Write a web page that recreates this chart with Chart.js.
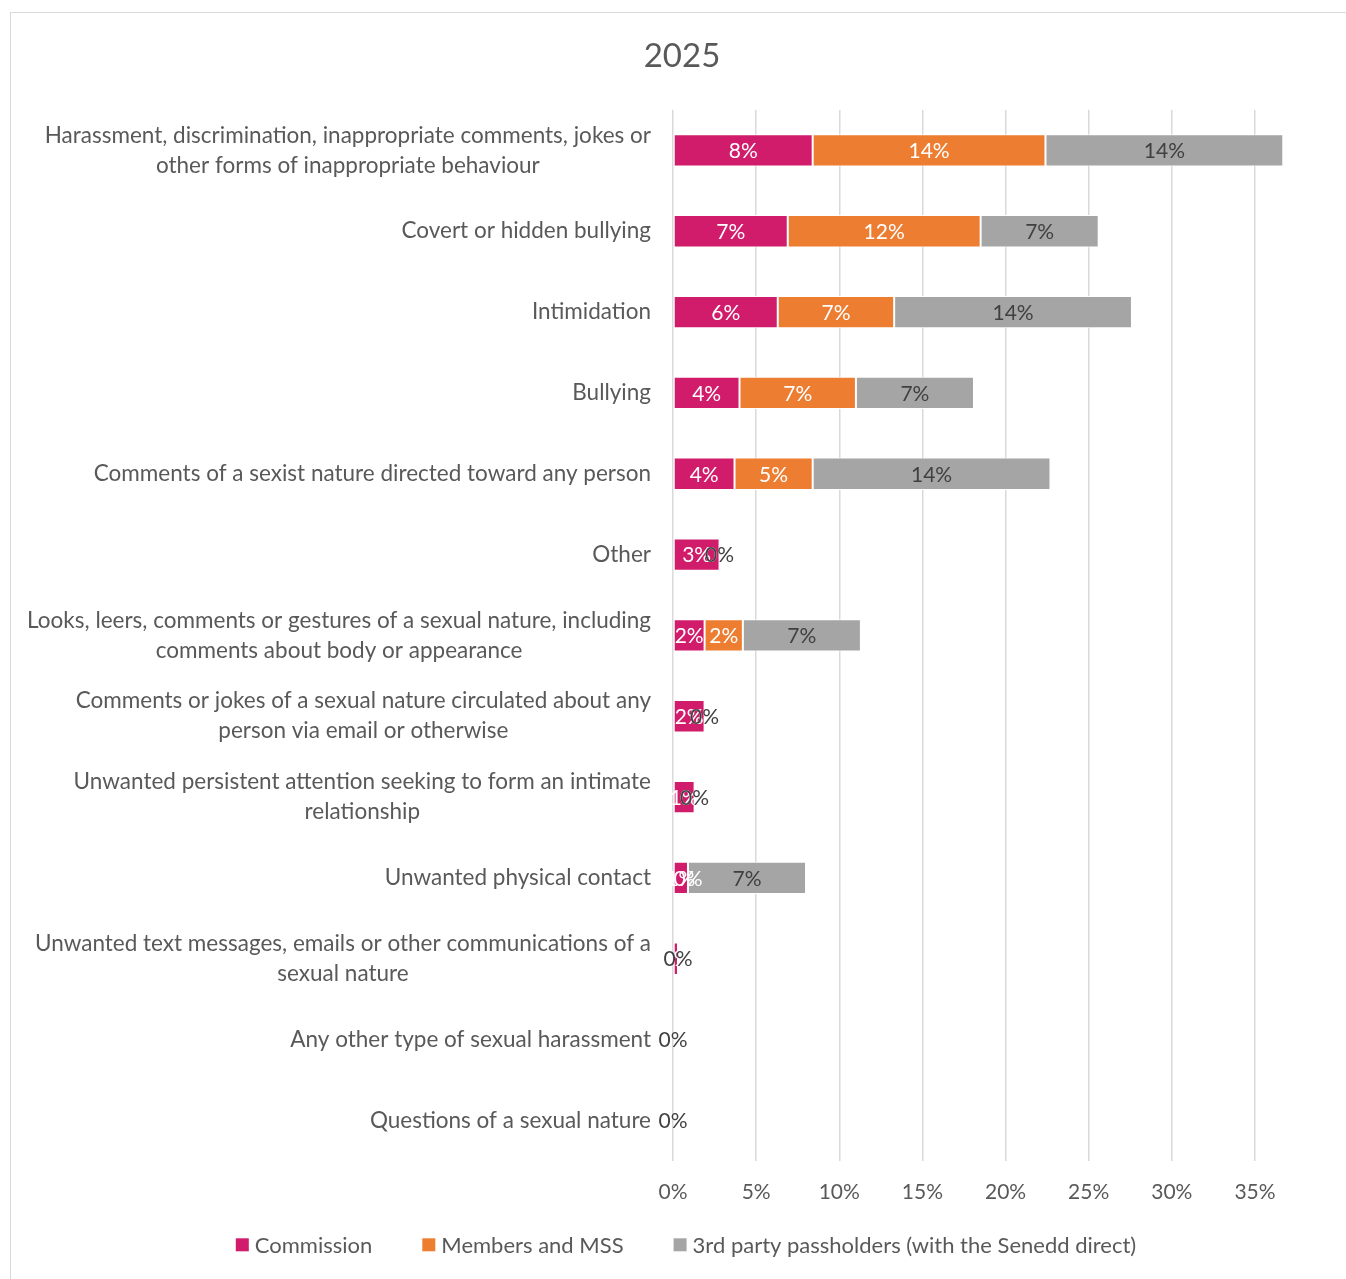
<!DOCTYPE html>
<html>
<head>
<meta charset="utf-8">
<title>2025</title>
<script src="https://cdn.jsdelivr.net/npm/chart.js@4"></script>
<style>
  html, body { margin: 0; padding: 0; background: #fff; overflow: hidden; }
  #wrap { position: relative; width: 1346px; height: 1279px; }
  #frame { position: absolute; left: 10px; top: 12px; width: 1400px; height: 1400px;
           border: 1px solid #d9d9d9; box-sizing: border-box; }
  #chart { position: absolute; left: 0; top: 0; }
</style>
</head>
<body>
<div id="wrap">
  <div id="frame"></div>
  <canvas id="chart" width="1346" height="1279"></canvas>
</div>
<script>
// --- data (percent of respondents) ---
const categories = [
  ['Harassment, discrimination, inappropriate comments, jokes or', 'other forms of inappropriate behaviour'],
  'Covert or hidden bullying',
  'Intimidation',
  'Bullying',
  'Comments of a sexist nature directed toward any person',
  'Other',
  ['Looks, leers, comments or gestures of a sexual nature, including', 'comments about body or appearance'],
  ['Comments or jokes of a sexual nature circulated about any', 'person via email or otherwise'],
  ['Unwanted persistent attention seeking to form an intimate', 'relationship'],
  'Unwanted physical contact',
  ['Unwanted text messages, emails or other communications of a', 'sexual nature'],
  'Any other type of sexual harassment',
  'Questions of a sexual nature',
];
const commission = [8.4, 6.9, 6.3, 4.0, 3.7, 2.8, 1.9, 1.9, 1.3, 0.9, 0.3, 0, 0];
const members    = [14.0, 11.6, 7.0, 7.0, 4.7, 0, 2.3, 0, 0, 0, 0, 0, 0];
const thirdParty = [14.3, 7.1, 14.3, 7.1, 14.3, 0, 7.1, 0, 0, 7.1, 0, 0, 0];
const seriesNames = ['Commission', 'Members and MSS', '3rd party passholders (with the Senedd direct)'];
const chartTitle = '2025';
const xMax = 35;
const xStep = 5;

// --- styles ---
const FONT = 'Lato, "Open Sans", sans-serif';
const FS = 22.5;    // category labels, legend
const FS_NUM = 21;  // tick and value labels
const TEXT = '#595959';
const SERIES_COLORS = ['#d01c6b', '#ed7d31', '#a5a5a5'];
const LABEL_COLORS = ['#ffffff', '#ffffff', '#404040'];

/**
 * Title centred over the whole frame (not just the plot).
 */
const frameTitle = {
  id: 'frameTitle',
  afterDraw(chart) {
    const { ctx } = chart;
    ctx.save();
    ctx.font = `33px ${FONT}`;
    ctx.fillStyle = TEXT;
    ctx.textAlign = 'center';
    ctx.textBaseline = 'middle';
    ctx.fillText(chartTitle, 682, 56);
    ctx.restore();
  },
};

/**
 * Wrapped category labels: each block right-aligned, its lines centred.
 */
const wrappedLabels = {
  id: 'wrappedLabels',
  afterDraw(chart) {
    const { ctx } = chart;
    const y = chart.scales.y;
    ctx.save();
    ctx.font = `${FS}px ${FONT}`;
    ctx.fillStyle = TEXT;
    ctx.textAlign = 'center';
    ctx.textBaseline = 'middle';
    categories.forEach((lab, i) => {
      const lines = Array.isArray(lab) ? lab : [lab];
      const w = Math.max(...lines.map(l => ctx.measureText(l).width));
      const cx = y.right - 22 - w / 2;
      const cy = y.getPixelForValue(i);
      lines.forEach((l, j) => ctx.fillText(l, cx, cy + (j - (lines.length - 1) / 2) * 30));
    });
    ctx.restore();
  },
};

/**
 * Value labels centred in each bar segment (zeros included, like Excel).
 */
const segmentLabels = {
  id: 'segmentLabels',
  afterDatasetsDraw(chart) {
    const { ctx } = chart;
    ctx.save();
    ctx.font = `${FS_NUM}px ${FONT}`;
    ctx.textAlign = 'center';
    ctx.textBaseline = 'middle';
    chart.data.datasets.forEach((ds, di) => {
      const meta = chart.getDatasetMeta(di);
      ctx.fillStyle = LABEL_COLORS[di];
      meta.data.forEach((bar, i) => {
        ctx.fillText(Math.round(ds.data[i]) + '%', (bar.x + bar.base) / 2, bar.y + 1);
      });
    });
    ctx.restore();
  },
};

/**
 * Bottom legend with small square markers.
 */
const bottomLegend = {
  id: 'bottomLegend',
  afterDraw(chart) {
    const { ctx } = chart;
    const box = 13, gap = 6, spacing = 50;
    ctx.save();
    ctx.font = `22px ${FONT}`;
    ctx.textAlign = 'left';
    ctx.textBaseline = 'middle';
    const widths = seriesNames.map(n => box + gap + ctx.measureText(n).width);
    const total = widths.reduce((a, b) => a + b, 0) + spacing * (widths.length - 1);
    let x = 686 - total / 2;
    const yc = chart.chartArea.bottom + 84;
    seriesNames.forEach((n, i) => {
      ctx.fillStyle = SERIES_COLORS[i];
      ctx.fillRect(x, yc - box / 2, box, box);
      ctx.fillStyle = TEXT;
      ctx.fillText(n, x + box + gap, yc + 1);
      x += widths[i] + spacing;
    });
    ctx.restore();
  },
};

function makeDataset(label, data, color) {
  return {
    label: label,
    data: data,
    backgroundColor: color,
    borderColor: '#ffffff',
    borderWidth: 1,
    borderSkipped: false,
    categoryPercentage: 1,
    barPercentage: 0.4,
    clip: false,
  };
}

new Chart(document.getElementById('chart'), {
  type: 'bar',
  data: {
    labels: categories,
    datasets: [
      makeDataset(seriesNames[0], commission, SERIES_COLORS[0]),
      makeDataset(seriesNames[1], members, SERIES_COLORS[1]),
      makeDataset(seriesNames[2], thirdParty, SERIES_COLORS[2]),
    ],
  },
  options: {
    indexAxis: 'y',
    responsive: false,
    animation: false,
    layout: { padding: { left: 0, right: 91, top: 110, bottom: 55 } },
    plugins: {
      legend: { display: false },
      tooltip: { enabled: false },
      title: { display: false },
    },
    scales: {
      x: {
        stacked: true,
        min: 0,
        max: xMax,
        grid: { color: '#d9d9d9', lineWidth: 1.5, drawTicks: false },
        border: { display: false },
        ticks: {
          stepSize: xStep,
          color: TEXT,
          padding: 19,
          font: { family: FONT, size: FS_NUM },
          callback: v => v + '%',
        },
      },
      y: {
        stacked: true,
        grid: { display: false },
        border: { display: false },
        ticks: { display: false },
        afterFit: s => { s.width = 673; },
      },
    },
  },
  plugins: [frameTitle, wrappedLabels, segmentLabels, bottomLegend],
});
</script>
</body>
</html>
